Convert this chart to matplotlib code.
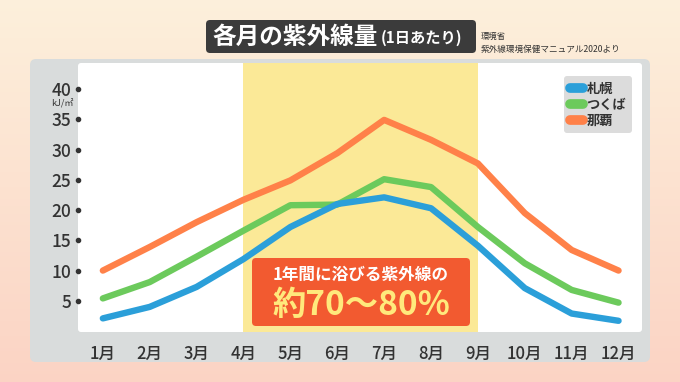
"""Monthly UV amount (per day) for Sapporo, Tsukuba and Naha."""

import matplotlib

matplotlib.use("Agg")

import matplotlib.pyplot as plt
import numpy as np
from matplotlib.lines import Line2D
from matplotlib.patches import FancyBboxPatch
from matplotlib.transforms import blended_transform_factory

plt.rcParams["font.family"] = ["Noto Sans CJK JP", "DejaVu Sans"]

MONTHS = ["1月", "2月", "3月", "4月", "5月", "6月", "7月", "8月", "9月", "10月", "11月", "12月"]
SAPPORO = [2.1, 4.0, 7.3, 11.9, 17.2, 21.0, 22.1, 20.3, 14.1, 7.1, 2.9, 1.7]
TSUKUBA = [5.4, 8.1, 12.3, 16.6, 20.8, 20.9, 25.1, 23.8, 17.2, 11.2, 6.8, 4.7]
NAHA = [10.0, 13.9, 18.0, 21.7, 24.9, 29.4, 34.9, 31.6, 27.7, 19.5, 13.4, 10.0]
SERIES_NAMES = ["札幌", "つくば", "那覇"]
Y_TICKS = [5, 10, 15, 20, 25, 30, 35, 40]

BLUE = "#2b9fd9"
GREEN = "#6cca5c"
ORANGE = "#ff8149"
TEXT = "#333333"

W, H = 680, 382
fig = plt.figure(figsize=(W / 100, H / 100), dpi=100)

# background in pixel coordinates
bg = fig.add_axes([0, 0, 1, 1], zorder=0)
bg.set_xlim(0, W)
bg.set_ylim(H, 0)
bg.axis("off")

top_col = np.array([0.992, 0.940, 0.860])
bot_col = np.array([0.985, 0.830, 0.770])
yy, xx = np.mgrid[0:1:100j, 0:1:100j]
grad = top_col * (1 - yy[..., None]) + bot_col * yy[..., None]
bg.imshow(np.clip(grad, 0, 1), extent=(0, W, H, 0), aspect="auto", zorder=0)

bg.add_patch(FancyBboxPatch((30, 59), 620, 303, boxstyle="round,pad=0,rounding_size=6",
                            fc="#d9dcdc", ec="none", zorder=1))
bg.add_patch(FancyBboxPatch((78, 63), 564, 269, boxstyle="round,pad=0,rounding_size=3",
                            fc="white", ec="none", zorder=2))

# main chart
left, right, bottom, topy = 78 / W, 642 / W, 1 - 332 / H, 1 - 63 / H
ax = fig.add_axes([left, bottom, right - left, topy - bottom], zorder=1)
ax.patch.set_alpha(0)
x = np.arange(1, len(MONTHS) + 1)
ax.set_xlim(0.47, 12.5)
ax.set_ylim(-0.15, 44.3)
ax.axvspan(4, 9, color="#fbe997", zorder=0, lw=0)

for vals, color, name, z in [(TSUKUBA, GREEN, SERIES_NAMES[1], 3), (NAHA, ORANGE, SERIES_NAMES[2], 3),
                             (SAPPORO, BLUE, SERIES_NAMES[0], 4)]:
    ax.plot(x, vals, color=color, lw=4.6, solid_capstyle="round", solid_joinstyle="round",
            label=name, zorder=z)

for s in ax.spines.values():
    s.set_visible(False)
ax.set_xticks(x, MONTHS)
ax.set_yticks(Y_TICKS, [str(t) for t in Y_TICKS])
ax.tick_params(axis="both", length=0, colors=TEXT)
ax.tick_params(axis="y", pad=5, labelsize=12.5)
ax.tick_params(axis="x", pad=9, labelsize=12)
for lab in ax.get_xticklabels() + ax.get_yticklabels():
    lab.set_fontweight("medium")

trans = blended_transform_factory(ax.transAxes, ax.transData)
ax.plot([0] * len(Y_TICKS), Y_TICKS, "o", ms=3, color=TEXT, transform=trans, clip_on=False, zorder=5)
ax.text(-0.008, 37.6, "kJ/㎡", transform=trans, ha="right", va="center", fontsize=6.5, color=TEXT)

handles = [Line2D([], [], color=c, lw=7, solid_capstyle="round") for c in (BLUE, GREEN, ORANGE)]
leg = ax.legend(handles, SERIES_NAMES, loc="upper right", bbox_to_anchor=(0.9935, 0.975),
                frameon=True, fancybox=True, facecolor="#dcdcdc", edgecolor="none", framealpha=1,
                handlelength=1.0, handletextpad=0.3, borderpad=0.4, labelspacing=0.15,
                prop={"size": 9.5, "weight": "bold"})
for t in leg.get_texts():
    t.set_color(TEXT)

# overlay: title, source, annotation
ov = fig.add_axes([0, 0, 1, 1], zorder=3)
ov.set_xlim(0, W)
ov.set_ylim(H, 0)
ov.axis("off")
ov.patch.set_alpha(0)

ov.add_patch(FancyBboxPatch((206, 20), 270, 33, boxstyle="round,pad=0,rounding_size=4",
                            fc="#3b3b3b", ec="none"))
ov.text(212, 37, "各月の紫外線量", fontsize=17, fontweight="bold", color="white", ha="left", va="center")
ov.text(381, 38, "(1日あたり)", fontsize=11, fontweight="bold", color="white", ha="left", va="center")
ov.text(481, 36, "環境省", fontsize=6, color=TEXT, ha="left", va="center")
ov.text(481, 49, "紫外線環境保健マニュアル2020より", fontsize=6.2, color=TEXT, ha="left", va="center")

ov.add_patch(FancyBboxPatch((252, 258), 218, 68, boxstyle="round,pad=0,rounding_size=4",
                            fc="#f25a30", ec="none"))
ov.text(361, 275, "1年間に浴びる紫外線の", fontsize=12, fontweight="bold", color="white",
        ha="center", va="center")
ov.text(361, 305, "約70〜80%", fontsize=24, fontweight="bold", color="#ffe97c",
        ha="center", va="center")

fig.savefig("out.png", dpi=100)
